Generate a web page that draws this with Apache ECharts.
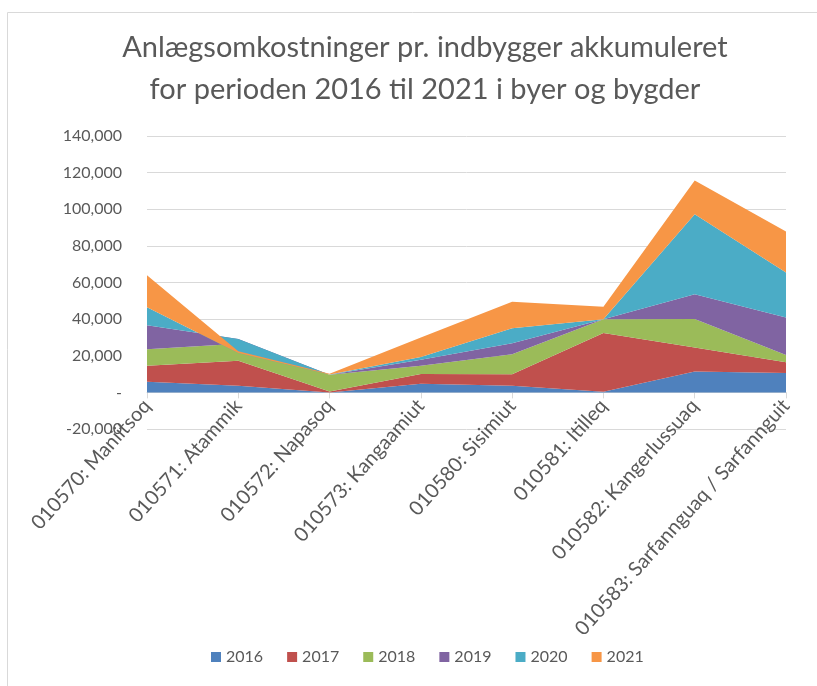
<!DOCTYPE html>
<html>
<head>
<meta charset="utf-8">
<script src="https://cdn.jsdelivr.net/npm/echarts@6/dist/echarts.min.js"></script>
<style>
  html, body { margin: 0; padding: 0; background: #fff; }
  #chart { width: 817px; height: 686px; }
</style>
</head>
<body>
<div id="chart"></div>
<script>
let categories = [
  "010570: Maniitsoq",
  "010571: Atammik",
  "010572: Napasoq",
  "010573: Kangaamiut",
  "010580: Sisimiut",
  "010581: Itilleq",
  "010582: Kangerlussuaq",
  "010583: Sarfannguaq / Sarfannguit",
];

let years = ["2016", "2017", "2018", "2019", "2020", "2021"];

let v2016 = [5800, 3600, 0, 4750, 3650, 300, 11450, 10600];
let v2017 = [8700, 13700, 500, 5300, 6200, 32100, 13100, 5800];
let v2018 = [9100, 9300, 9100, 4500, 11000, 7600, 15500, 4000];
let v2019 = [13100, 2500, 0, 3300, 6000, 0, 13600, 20500];
let v2020 = [9800, -7600, 200, 1500, 8200, 0, 43600, 24500];
let v2021 = [17500, 1000, 400, 10600, 14500, 6700, 18400, 22400];

let yTicks = [-20000, 0, 20000, 40000, 60000, 80000, 100000, 120000, 140000];

let colors = ["#4F81BD", "#C0504D", "#9BBB59", "#8064A2", "#4BACC6", "#F79646"];

let values = [v2016, v2017, v2018, v2019, v2020, v2021];
let txt = "#595959";
let font = "Lato";

function fmt(v) {
  if (v === 0) return "-";
  return v.toLocaleString("en-US");
}

let series = years.map((y, i) => {
  return {
    name: y,
    type: "line",
    stack: "total",
    stackStrategy: "all",
    data: values[i],
    showSymbol: false,
    symbol: "none",
    lineStyle: { width: 0 },
    areaStyle: { color: colors[i], opacity: 1 },
    itemStyle: { color: colors[i] },
    emphasis: { disabled: true },
  };
});

// plot box: top 136 (140k) to 429 (-20k); zero line sits one step above the bottom
let gridTop = 136;
let gridBottom = 429;
let zeroShift = (gridBottom - gridTop) / 8;

let chart = echarts.init(document.getElementById("chart"));
chart.setOption({
  animation: false,
  color: colors,
  title: {
    text: "Anlægsomkostninger pr. indbygger akkumuleret\nfor perioden 2016 til 2021 i byer og bygder",
    left: 420,
    textAlign: "center",
    top: 22,
    textStyle: {
      color: txt,
      fontFamily: font,
      fontSize: 29,
      fontWeight: "normal",
      lineHeight: 42,
    },
  },
  graphic: [
    {
      type: "rect",
      shape: { x: 7.5, y: 12.5, width: 830, height: 700 },
      style: { fill: "none", stroke: "#d9d9d9", lineWidth: 1 },
      silent: true,
    },
  ],
  legend: {
    bottom: 16,
    left: 206,
    itemWidth: 10,
    itemHeight: 10,
    itemGap: 24,
    icon: "rect",
    textStyle: { color: txt, fontFamily: font, fontSize: 16 },
    data: years,
  },
  grid: {
    left: 147,
    right: 31,
    top: gridTop,
    bottom: 686 - gridBottom,
  },
  xAxis: {
    type: "category",
    boundaryGap: false,
    data: categories,
    offset: -zeroShift,
    axisLine: { onZero: false, lineStyle: { color: "#d9d9d9", width: 1 } },
    axisTick: { show: true, alignWithLabel: true, length: 6, lineStyle: { color: "#d9d9d9" } },
    axisLabel: {
      interval: 0,
      rotate: 48,
      color: txt,
      fontFamily: font,
      fontSize: 20,
      margin: 10,
    },
  },
  yAxis: {
    type: "value",
    min: yTicks[0],
    max: yTicks[yTicks.length - 1],
    interval: 20000,
    axisLine: { show: false },
    axisTick: { show: false },
    splitLine: { lineStyle: { color: "#d9d9d9", width: 1 } },
    axisLabel: {
      color: txt,
      fontFamily: font,
      fontSize: 16,
      margin: 25,
      formatter: fmt,
    },
  },
  series: series,
});
</script>
</body>
</html>
